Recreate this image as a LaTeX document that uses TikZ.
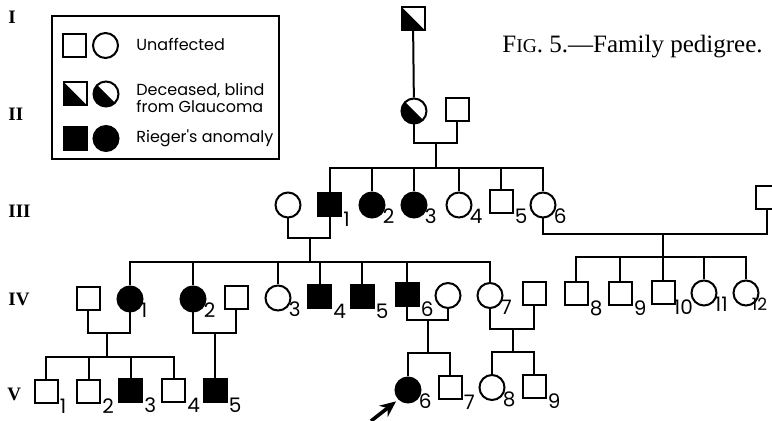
\documentclass[tikz,border=0pt]{standalone}
\usepackage{fontspec}
\setmainfont{Liberation Serif}
\newfontfamily\keyfont{Poppins}
\usetikzlibrary{arrows.meta}

\tikzset{
  male/.style={draw, rectangle, minimum size=11.5pt, inner sep=0pt, line width=1pt},
  female/.style={draw, circle, minimum size=12.5pt, inner sep=0pt, line width=1pt},
  rieger/.style={fill=black},
  glaucoma/.style={path picture={\fill[black] (path picture bounding box.north west) -- (path picture bounding box.south east) -- (path picture bounding box.south west) -- cycle;}},
  numlab/.style={anchor=west, inner sep=0.5pt, yshift=-1pt, font=\keyfont\fontsize{10}{10}\selectfont},
  genlab/.style={anchor=west, inner sep=0pt, font=\bfseries\fontsize{9.5}{9.5}\selectfont},
  keytext/.style={anchor=west, inner sep=0pt, align=left, font=\keyfont\fontsize{8}{8.3}\selectfont},
  kin/.style={line width=1pt}
}

\begin{document}
\begin{tikzpicture}[x=0.5pt, y=-0.5pt]
    \useasboundingbox (0,0) rectangle (772,421);

    % Generation labels
    \node[genlab] (genI) at (8,17) {I};
    \node[genlab] (genII) at (8,114) {II};
    \node[genlab] (genIII) at (8,211) {III};
    \node[genlab] (genIV) at (8,299) {IV};
    \node[genlab] (genV) at (7,394) {V};

    % Key
    \draw[line width=1.2pt] (52,16) rectangle (279,159);
    \node[male] (keyA) at (74.5,45.5) {};
    \node[female] (keyB) at (105.5,45.5) {};
    \node[keytext] (keyAtxt) at (136,44) {Unaffected};
    \node[male, glaucoma] (keyC) at (75.5,94) {};
    \node[female, glaucoma] (keyD) at (106,94) {};
    \node[keytext] (keyCtxt) at (136,98) {Deceased, blind\\from Glaucoma};
    \node[male, rieger] (keyE) at (75,138.5) {};
    \node[female, rieger] (keyF) at (106,138.5) {};
    \node[keytext] (keyEtxt) at (136,138) {Rieger's anomaly};

    % Caption
    \node[anchor=west, inner sep=0pt, font=\fontsize{12.5}{12.5}\selectfont] (caption) at (502,47)
        {F{\fontsize{9.8}{9.8}\selectfont IG}. 5.—Family pedigree.};

    % Generation I
    \node[male, glaucoma] (I1) at (413,18.5) {};

    % Generation II
    \node[female, glaucoma] (II1) at (414,111) {};
    \node[male] (II2) at (457,110) {};
    \draw[kin] (I1) -- (II1);
    \coordinate (m2) at (436,143);
    \coordinate (s3) at (436,168);
    \draw[kin] (II1.south) |- (m2) -| (II2.south);
    \draw[kin] (m2) -- (s3);

    % Generation III
    \node[female] (III0) at (288,205) {};
    \node[male, rieger, label={[numlab]south east:1}] (III1) at (329.5,205) {};
    \node[female, rieger, label={[numlab]south east:2}] (III2) at (372,205) {};
    \node[female, rieger, label={[numlab]south east:3}] (III3) at (414,205) {};
    \node[female, label={[numlab]south east:4}] (III4) at (459,205) {};
    \node[male, label={[numlab]south east:5}] (III5) at (501,202) {};
    \node[female, label={[numlab]south east:6}] (III6) at (543,205) {};
    \node[male] (III7) at (767,197.5) {};
    \foreach \c in {III1,III2,III3,III4,III5,III6} {
        \draw[kin] (s3) -| (\c.north);
    }
    \coordinate (m3a) at (310,238);
    \coordinate (s4a) at (310,262);
    \draw[kin] (III0.south) |- (m3a) -| (III1.south);
    \draw[kin] (m3a) -- (s4a);
    \coordinate (m3b) at (663,234);
    \coordinate (s4b) at (663,257);
    \draw[kin] (III6.south) |- (m3b) -| (III7.south);
    \draw[kin] (m3b) -- (s4b);

    % Generation IV
    \node[male] (IV0) at (88,298.5) {};
    \node[female, rieger, label={[numlab]south east:1}] (IV1) at (130,299) {};
    \node[female, rieger, label={[numlab]south east:2}] (IV2) at (193,299) {};
    \node[male] (IV2s) at (236,297.5) {};
    \node[female, label={[numlab]south east:3}] (IV3) at (278,298) {};
    \node[male, rieger, label={[numlab]south east:4}] (IV4) at (319.5,297) {};
    \node[male, rieger, label={[numlab]south east:5}] (IV5) at (362,297) {};
    \node[male, rieger, label={[numlab]south east:6}] (IV6) at (407,295) {};
    \node[female] (IV6s) at (448,295.5) {};
    \node[female, label={[numlab]south east:7}] (IV7) at (490,295.5) {};
    \node[male] (IV7s) at (534,294) {};
    \node[male, label={[numlab]south east:8}] (IV8) at (576,293.5) {};
    \node[male, label={[numlab]south east:9}] (IV9) at (620,293.5) {};
    \node[male, label={[numlab, xshift=-1.5pt]south east:10}] (IV10) at (663,293) {};
    \node[female, label={[numlab]south east:11}] (IV11) at (704,293) {};
    \node[female, label={[numlab, xshift=-2.5pt, font=\keyfont\fontsize{8.5}{8.5}\selectfont]south east:12}] (IV12) at (746,293) {};
    \foreach \c in {IV1,IV2,IV3,IV4,IV5,IV6,IV7} {
        \draw[kin] (s4a) -| (\c.north);
    }
    \foreach \c in {IV8,IV9,IV10,IV11,IV12} {
        \draw[kin] (s4b) -| (\c.north);
    }
    \coordinate (m4a) at (107,333);
    \coordinate (s5a) at (107,357);
    \draw[kin] (IV0.south) |- (m4a) -| (IV1.south);
    \draw[kin] (m4a) -- (s5a);
    \coordinate (m4b) at (215,333);
    \draw[kin] (IV2.south) |- (m4b) -| (IV2s.south);
    \coordinate (m4c) at (428,320);
    \coordinate (s5c) at (428,353);
    \draw[kin] (IV6.south) |- (m4c) -| (IV6s.south);
    \draw[kin] (m4c) -- (s5c);
    \coordinate (m4d) at (513,329);
    \coordinate (s5d) at (513,352);
    \draw[kin] (IV7.south) |- (m4d) -| (IV7s.south);
    \draw[kin] (m4d) -- (s5d);

    % Generation V
    \node[male, label={[numlab]south east:1}] (V1) at (46,391.5) {};
    \node[male, label={[numlab]south east:2}] (V2) at (88.5,391.5) {};
    \node[male, rieger, label={[numlab]south east:3}] (V3) at (130.5,391) {};
    \node[male, label={[numlab]south east:4}] (V4) at (173.5,391) {};
    \node[male, rieger, label={[numlab]south east:5}] (V5) at (215,391) {};
    \node[female, rieger, label={[numlab]south east:6}] (V6) at (408,390) {};
    \node[male, label={[numlab]south east:7}] (V7) at (450,387.5) {};
    \node[female, label={[numlab]south east:8}] (V8) at (492,387.5) {};
    \node[male, label={[numlab]south east:9}] (V9) at (534,386.5) {};
    \foreach \c in {V1,V2,V3,V4} {
        \draw[kin] (s5a) -| (\c.north);
    }
    \draw[kin] (m4b) -- (V5.north);
    \foreach \c in {V6,V7} {
        \draw[kin] (s5c) -| (\c.north);
    }
    \foreach \c in {V8,V9} {
        \draw[kin] (s5d) -| (\c.north);
    }

    % Propositus
    \coordinate (arrtail) at (371,421);
    \draw[line width=1.8pt, -{Stealth[length=8pt, width=7pt]}, shorten >=1.5pt] (arrtail) -- (V6.south west);
\end{tikzpicture}
\end{document}
